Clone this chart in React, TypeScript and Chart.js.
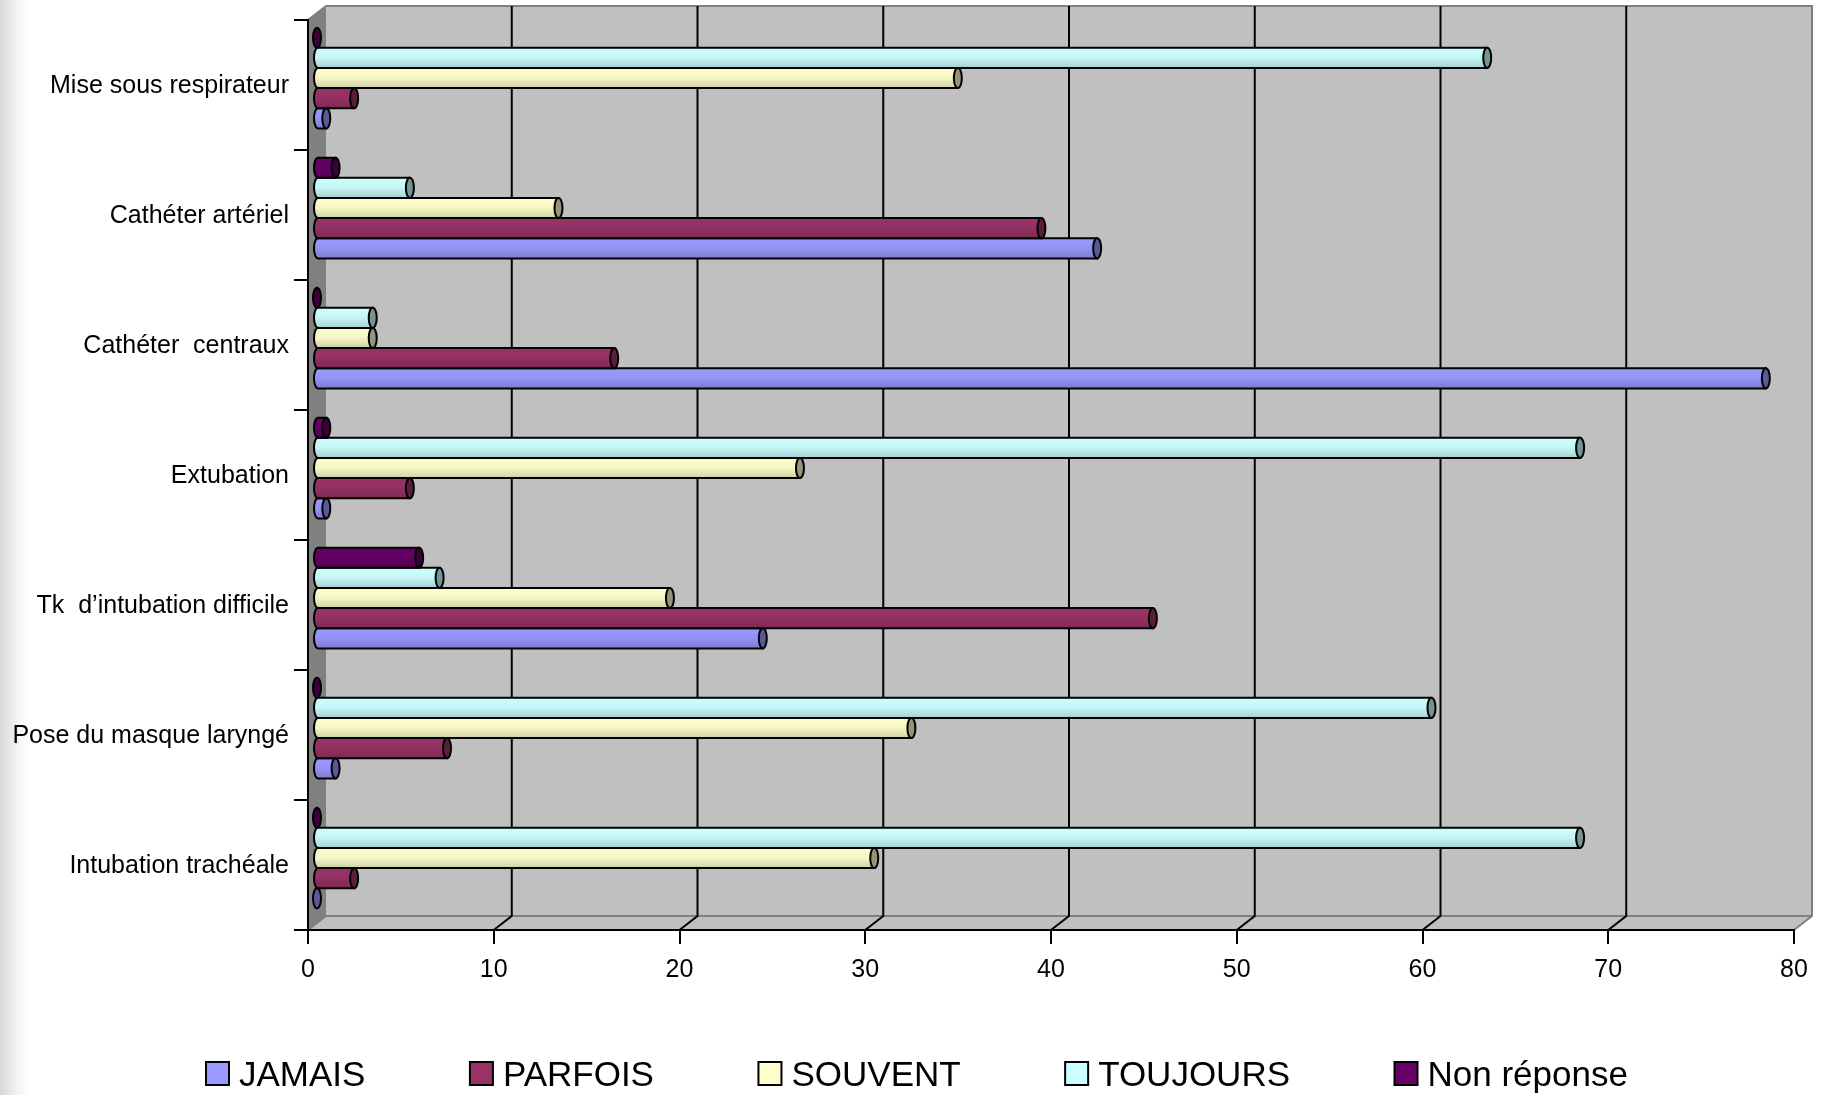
import React, { useEffect, useRef } from "react";
import { Chart, registerables } from "chart.js";

Chart.register(...registerables);

const categories = [
  "Mise sous respirateur",
  "Cathéter artériel",
  "Cathéter  centraux",
  "Extubation",
  "Tk  d’intubation difficile",
  "Pose du masque laryngé",
  "Intubation trachéale",
];
const jamais = [0.5, 42, 78, 0.5, 24, 1, 0];
const parfois = [2, 39, 16, 5, 45, 7, 2];
const souvent = [34.5, 13, 3, 26, 19, 32, 30];
const toujours = [63, 5, 3, 68, 6.6, 60, 68];
const nonReponse = [0, 1, 0, 0.5, 5.5, 0, 0];
const xTicks = [0, 10, 20, 30, 40, 50, 60, 70, 80];

const FONT = '"Liberation Sans", Arial, sans-serif';
const DEPTH_X = 18;
const DEPTH_Y = 14;
const BAR_DX = 9;
const BAR_DY = -7;

function shade(hex: string, k: number) {
  const n = parseInt(hex.slice(1), 16);
  const r = Math.round(((n >> 16) & 255) * k);
  const g = Math.round(((n >> 8) & 255) * k);
  const b = Math.round((n & 255) * k);
  return `rgb(${r},${g},${b})`;
}

const wallsPlugin = {
  id: "walls",
  beforeDraw(chart: any) {
    const { ctx, chartArea: a, scales } = chart;
    const x = scales.x;
    ctx.save();
    const bl = a.left + DEPTH_X;
    const br = a.right + DEPTH_X;
    const bt = a.top - DEPTH_Y;
    const bb = a.bottom - DEPTH_Y;
    ctx.fillStyle = "#C0C0C0";
    ctx.fillRect(bl, bt, br - bl, bb - bt);
    ctx.beginPath();
    ctx.moveTo(a.left, a.bottom);
    ctx.lineTo(bl, bb);
    ctx.lineTo(br, bb);
    ctx.lineTo(a.right, a.bottom);
    ctx.closePath();
    ctx.fill();
    ctx.fillStyle = "#808080";
    ctx.beginPath();
    ctx.moveTo(a.left, a.top);
    ctx.lineTo(bl, bt);
    ctx.lineTo(bl, bb);
    ctx.lineTo(a.left, a.bottom);
    ctx.closePath();
    ctx.fill();
    ctx.strokeStyle = "#808080";
    ctx.lineWidth = 2;
    ctx.beginPath();
    ctx.moveTo(a.left, a.top);
    ctx.lineTo(bl, bt);
    ctx.lineTo(br, bt);
    ctx.lineTo(br, bb);
    ctx.lineTo(a.right, a.bottom);
    ctx.moveTo(a.left, a.bottom);
    ctx.lineTo(bl, bb);
    ctx.lineTo(br, bb);
    ctx.stroke();
    ctx.strokeStyle = "#000";
    ctx.lineWidth = 2;
    xTicks.slice(1, -1).forEach((v) => {
      const px = x.getPixelForValue(v);
      ctx.beginPath();
      ctx.moveTo(px, a.bottom);
      ctx.lineTo(px + DEPTH_X, bb);
      ctx.lineTo(px + DEPTH_X, bt);
      ctx.stroke();
    });
    ctx.restore();
  },
  beforeDatasetsDraw(chart: any) {
    chart.ctx.save();
    chart.ctx.translate(BAR_DX, BAR_DY);
  },
  afterDatasetDraw(chart: any, args: any) {
    const { ctx } = chart;
    const color = chart.data.datasets[args.index].backgroundColor as string;
    const rx = 4;
    args.meta.data.forEach((bar: any) => {
      const p = bar.getProps(["x", "y", "base", "height"], true);
      const top = p.y - p.height / 2;
      const bot = p.y + p.height / 2;
      const x0 = p.base;
      const x1 = p.x;
      const ry = p.height / 2;
      if (x1 - x0 > 0.1) {
        const g = ctx.createLinearGradient(0, top, 0, bot);
        g.addColorStop(0, shade(color, 1));
        g.addColorStop(0.45, shade(color, 0.97));
        g.addColorStop(0.7, shade(color, 0.9));
        g.addColorStop(1, shade(color, 0.82));
        ctx.beginPath();
        ctx.moveTo(x1, top);
        ctx.lineTo(x0, top);
        ctx.ellipse(x0, p.y, rx, ry, 0, -Math.PI / 2, Math.PI / 2, true);
        ctx.lineTo(x1, bot);
        ctx.closePath();
        ctx.fillStyle = g;
        ctx.fill();
        ctx.strokeStyle = "#000";
        ctx.lineWidth = 2;
        ctx.stroke();
      }
      ctx.beginPath();
      ctx.ellipse(x1, p.y, rx, ry, 0, 0, Math.PI * 2);
      ctx.fillStyle = shade(color, 0.58);
      ctx.fill();
      ctx.strokeStyle = "#000";
      ctx.lineWidth = 2;
      ctx.stroke();
    });
  },
  afterDatasetsDraw(chart: any) {
    chart.ctx.restore();
  },
  afterDraw(chart: any) {
    const { ctx } = chart;
    ctx.save();
    ctx.font = `35px ${FONT}`;
    ctx.textBaseline = "middle";
    ctx.textAlign = "left";
    let cx = 206;
    const cy = 1073;
    [...chart.data.datasets].reverse().forEach((d: any) => {
      ctx.fillStyle = d.backgroundColor;
      ctx.strokeStyle = "#000";
      ctx.lineWidth = 2;
      ctx.fillRect(cx, cy - 11, 23, 23);
      ctx.strokeRect(cx, cy - 11, 23, 23);
      ctx.fillStyle = "#000";
      ctx.fillText(d.label, cx + 33, cy + 3);
      cx += 33 + ctx.measureText(d.label).width + 104.5;
    });
    ctx.restore();
  },
};

export default function App() {
  const ref = useRef<HTMLCanvasElement>(null);
  useEffect(() => {
    const mk = (label: string, data: number[], color: string) => ({
      label,
      data,
      backgroundColor: color,
      borderWidth: 0,
      clip: false as any,
      categoryPercentage: 0.775,
      barPercentage: 1,
    });
    const chart = new Chart(ref.current!, {
      type: "bar",
      data: {
        labels: categories,
        datasets: [
          mk("Non réponse", nonReponse, "#660066"),
          mk("TOUJOURS", toujours, "#CCFFFF"),
          mk("SOUVENT", souvent, "#FFFFCC"),
          mk("PARFOIS", parfois, "#993366"),
          mk("JAMAIS", jamais, "#9999FF"),
        ],
      },
      plugins: [wallsPlugin],
      options: {
        indexAxis: "y",
        responsive: false,
        animation: false,
        layout: { padding: { left: 0, top: 20, right: 29, bottom: 0 } },
        plugins: { legend: { display: false }, tooltip: { enabled: false }, title: { display: false } },
        scales: {
          x: {
            min: 0,
            max: 80,
            afterFit(s: any) {
              s.height = 165;
            },
            ticks: { stepSize: 10, color: "#000", padding: 11, maxRotation: 0, font: { family: FONT, size: 25 } },
            grid: { drawOnChartArea: false, drawTicks: true, tickLength: 14, color: "#000", lineWidth: 2 },
            border: { color: "#000", width: 2 },
          },
          y: {
            afterFit(s: any) {
              s.width = 308;
            },
            ticks: { color: "#000", padding: 5, labelOffset: 1.5, font: { family: FONT, size: 25 } },
            grid: { drawOnChartArea: false, drawTicks: true, tickLength: 14, color: "#000", lineWidth: 2 },
            border: { color: "#000", width: 2 },
          },
        },
      } as any,
    });
    return () => chart.destroy();
  }, []);
  return (
    <div
      style={{
        position: "absolute",
        left: 0,
        top: 0,
        width: 1823,
        height: 1095,
        overflow: "hidden",
        background: "linear-gradient(to right, #d8d8d8 0px, #f4f4f4 18px, #ffffff 30px)",
      }}
    >
      <canvas ref={ref} width={1823} height={1095} style={{ display: "block" }} />
    </div>
  );
}
